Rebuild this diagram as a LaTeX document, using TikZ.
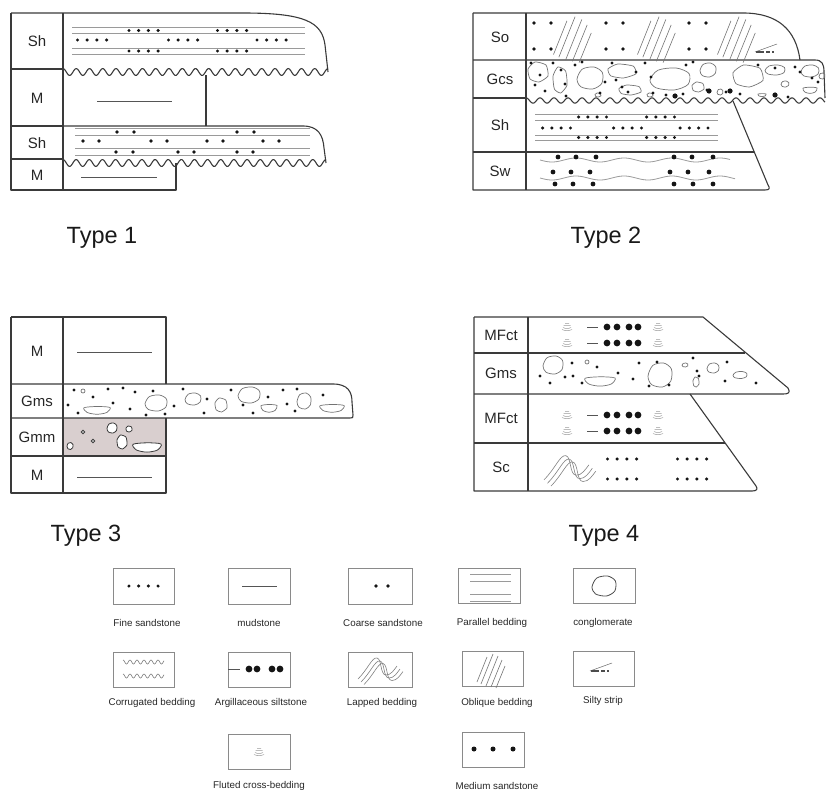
\documentclass[tikz,border=0pt]{standalone}
\usepackage{fontspec}
\setmainfont{Liberation Sans}
\definecolor{outc}{HTML}{3A3A3A}
\definecolor{lgray}{HTML}{9A9A9A}
\definecolor{dotc}{HTML}{151515}
\definecolor{mudc}{HTML}{555555}
\definecolor{gmmfill}{HTML}{D9CFCF}
\definecolor{boxc}{HTML}{8A8A8A}
\tikzset{
  outl/.style={draw=outc, line width=1.1pt, line join=round},
  thinl/.style={draw=lgray, line width=0.8pt},
  mudl/.style={draw=mudc, line width=1pt},
  clastst/.style={draw=black!55, line width=0.7pt},
  lab/.style={font=\fontsize{15}{17}\selectfont, text=black!85, inner sep=0},
  ttl/.style={font=\fontsize{23.5}{26}\selectfont, text=black!90, inner sep=0, anchor=base},
  leg/.style={font=\fontsize{9.8}{11}\selectfont, text=black!85, inner sep=0},
  lbox/.style={draw=boxc, line width=0.9pt},
  fine4/.pic={\foreach \i in {-1.5,-0.5,0.5,1.5} \fill[dotc] (\i*9.7,0) circle[radius=1.7pt];},
  fine4b/.pic={\foreach \i in {-1.5,-0.5,0.5,1.5} \fill[dotc] (\i*9.3,0) circle[radius=1.7pt];},
  clastR/.pic={\draw[clastst] plot[smooth cycle] coordinates {(-1,0.1) (-0.6,-0.8) (0.3,-1) (0.95,-0.5) (0.9,0.5) (0.2,1) (-0.7,0.8)};},
  clastB/.pic={\draw[clastst] plot[smooth cycle] coordinates {(-1,-0.45) (0,-0.7) (1,-0.5) (0.75,0.5) (0,0.85) (-0.75,0.5)};},
  clastA/.pic={\draw[clastst] plot[smooth cycle, tension=0.35] coordinates {(-1,-0.3) (-0.3,-1) (0.8,-0.7) (1,0.4) (0.1,1) (-0.8,0.7)};},
  fluted/.pic={\draw[black!40, line width=0.5pt] (-2,-3.5)--(2,-3.5) (-3.5,-1.5)--(3.5,-1.5)
      (-4,0.5) .. controls (-2,1.8) and (2,1.8) .. (4,0.5)
      (-5,2.5) .. controls (-2,4) and (2,4) .. (5,2.5);},
  lapped/.pic={\foreach \d/\e in {0/0,3/3,6/5.5} {
      \draw[black!50, line width=0.6pt] (-20+\d,12+\e) .. controls (-10+\d,2+\e) and (-6+\d,-10+\e) .. (-1+\d,-9+\e)
         .. controls (4+\d,-8+\e) and (2+\d,8+\e) .. (8+\d,8+\e) .. controls (13+\d,8+\e) and (16+\d,3+\e) .. (19+\d,-1+\e);}},
  oblique/.pic={\draw[black!55, line width=0.6pt] (-13,13)--(-3,-12) (-9,15)--(3,-15) (-4,17)--(8,-13) (1,18)--(12,-9) (6,19)--(15,-3);},
  silty/.pic={\draw[black!60, line width=0.5pt] (-11,4)--(11,-4);
      \draw[black!70, line width=1.1pt] (-10,4)--(-2,4) (0,4)--(4,4) (6,4)--(8,4);},
}
\begin{document}
\begin{tikzpicture}[x=1pt,y=-1pt]
\useasboundingbox (0,0) rectangle (826,792);

% ================= TYPE 1 =================
\draw[outl] (11,13) -- (243,13) .. controls (305,13) and (322,22) .. (325,45) -- (328,72);
\draw[outl] (11,13) -- (11,190) -- (176,190) -- (176,163);
\draw[outl] (63,13) -- (63,190);
\draw[outl] (11,69) -- (63,69) (11,126) -- (63,126) (11,159) -- (63,159);
\draw[outl] plot[domain=63:328, samples=200, variable=\t] (\t, {72-3.5*cos((\t-63)*27.17)});
\draw[outl] (206,75) -- (206,126);
\draw[outl] (63,126) -- (303,126) .. controls (318,126) and (323,135) .. (324,148) -- (326,163);
\draw[outl] plot[domain=63:326, samples=200, variable=\t] (\t, {163-3.5*cos((\t-63)*27.38)});
% top Sh content
\draw[thinl] (72,27)--(305,27) (72,33)--(305,33) (72,48)--(305,48) (72,54)--(305,54);
\foreach \x in {143.5,232} {\pic at (\x,30.5) {fine4}; \pic at (\x,51) {fine4};}
\foreach \x in {92,183,271.5} {\pic at (\x,40) {fine4};}
% M content
\draw[mudl] (97,101)--(172,101);
% Sh2 content
\draw[thinl] (75,128.5)--(310,128.5) (75,135)--(310,135) (75,148.5)--(310,148.5) (75,155)--(310,155);
\foreach \x/\y in {117/132,134/132,237/132,254/132,
  83/141,99/141,151/141,167/141,207/141,223/141,263/141,279/141,
  116/152,133/152,178/152,194/152,237/152,253/152}
  \fill[dotc] (\x,\y) circle[radius=1.9pt];
\draw[mudl] (81,177)--(157,177);
\node[lab] (t1a) at (37,41) {Sh};
\node[lab] (t1b) at (37,98) {M};
\node[lab] (t1c) at (37,143) {Sh};
\node[lab] (t1d) at (37,175) {M};
\node[ttl] (type1) at (102,243) {Type 1};

% ================= TYPE 2 =================
\draw[outl] (473,13) -- (743,13) .. controls (778,13) and (796,30) .. (800,60);
\draw[outl] (473,13) -- (473,190) -- (765,190) .. controls (770,190) and (770,188) .. (768,185) -- (733,101);
\draw[outl] (526,13) -- (526,190);
\draw[outl] (473,60) -- (815,60) .. controls (822,60) and (824,64) .. (824,72) -- (825,98);
\draw[outl] (473,98) -- (526,98);
\draw[outl] plot[domain=526:825, samples=220, variable=\t] (\t, {100.5-2.7*cos((\t-526)*25.714)});
\draw[outl] (473,152) -- (754,152);
% So
\foreach \x in {534,551,606,623,689,706} {\fill[dotc] (\x,23) circle[radius=1.9pt]; \fill[dotc] (\x,49) circle[radius=1.9pt];}
\foreach \x in {571,655,735} \pic[scale=1.35] at (\x,37) {oblique};
\pic at (766,48) {silty};
% Gcs
\foreach \x/\y/\a/\b in {590/78/13/11, 670/79/20/11, 708/70/8/7, 775/70/10/5, 810/71/9/6, 785/84/4/3, 822/76/3/3, 720/92/3/3}
  \pic[xscale=\a, yscale=\b] at (\x,\y) {clastR};
\foreach \x/\y/\a/\b in {538/72/10/10, 560/80/7/13, 622/71/14/7, 630/90/11/5, 698/87/6/5, 748/76/15/11, 598/95/3/2, 650/95/3/2}
  \pic[xscale=\a, yscale=\b] at (\x,\y) {clastA};
\foreach \x/\y/\a/\b in {810/90/7/4, 762/95/4/2}
  \pic[xscale=\a, yscale=\b] at (\x,\y) {clastB};
\foreach \x/\y in {531/63,535/85,545/91,553/63,561/70,575/65,582/62,600/93,612/63,616/80,622/87,628/92,636/72,
  645/63,651/77,653/93,666/95,686/65,693/62,707/90,726/92,758/65,775/68,788/97,795/67,800/72,812/78,818/82,
  540/75,565/84,566/96,605/82,683/94,740/94}
  \fill[dotc] (\x,\y) circle[radius=1.6pt];
\foreach \x/\y in {709/91,730/91,775/95,675/96}
  \fill[dotc] (\x,\y) circle[radius=2.6pt];
% Sh
\draw[thinl] (535,114)--(718,114) (535,120)--(718,120) (535,135)--(718,135) (535,140)--(718,140);
\foreach \x in {592.5,660.5} {\pic at (\x,117) {fine4b}; \pic at (\x,137.5) {fine4b};}
\foreach \x in {556.5,627.5,694} {\pic at (\x,128) {fine4b};}
% Sw
\draw[thinl] plot[domain=540:730, samples=100, variable=\t] (\t, {160+2*sin((\t-540)*7.5)});
\draw[thinl] plot[domain=540:735, samples=100, variable=\t] (\t, {178+2*sin((\t-540)*7.5)});
\foreach \x/\y in {558/157,576/157,596/157,674/157,692/157,713/157,
  553/172,571/172,590/172,670/172,688/172,709/172,
  555/184,573/184,593/184,674/184,693/184,713/184}
  \fill[dotc] (\x,\y) circle[radius=2.4pt];
\node[lab] (t2a) at (500,37) {So};
\node[lab] (t2b) at (500,79) {Gcs};
\node[lab] (t2c) at (500,125) {Sh};
\node[lab] (t2d) at (500,171) {Sw};
\node[ttl] (type2) at (606,243) {Type 2};

% ================= TYPE 3 =================
\fill[gmmfill] (63,418) rectangle (166,456);
\draw[outl] (11,317) -- (166,317) -- (166,384);
\draw[outl] (11,317) -- (11,493) -- (166,493) -- (166,418);
\draw[outl] (63,317) -- (63,493);
\draw[outl] (11,384) -- (333,384) .. controls (348,384) and (352,392) .. (352,402) -- (353,415) .. controls (353,418) .. (350,418) -- (11,418);
\draw[outl] (11,456) -- (166,456);
\draw[mudl] (77,352)--(152,352);
\draw[mudl] (77,477)--(152,477);
% Gms clasts
\foreach \x/\y/\a/\b in {156/403/11/8, 193/399/8/6, 249/395/11/8, 304/401/7/8}
  \pic[xscale=\a, yscale=\b] at (\x,\y) {clastR};
\foreach \x/\y/\a/\b in {97/410/13/5, 269/408/8/5, 332/408/12/5}
  \pic[xscale=\a, yscale=\b] at (\x,\y) {clastB};
\pic[xscale=6, yscale=7] at (221,405) {clastA};
\draw[clastst] (83,391) circle[radius=2pt];
\foreach \x/\y in {74/390,93/397,108/389,123/388,135/392,153/391,68/405,78/413,113/403,130/409,146/415,165/414,
  183/389,174/406,207/399,204/413,231/390,243/405,253/413,268/397,283/390,297/389,287/404,295/411,323/395}
  \fill[dotc] (\x,\y) circle[radius=1.7pt];
% Gmm clasts
\begin{scope}[clastst/.style={draw=outc, fill=white, line width=0.8pt}]
  \pic[xscale=14, yscale=6] at (147,447) {clastB};
  \pic[xscale=5, yscale=5] at (112,428) {clastR};
  \pic[xscale=5, yscale=7] at (122,442) {clastA};
  \pic[xscale=3, yscale=3] at (129,429) {clastA};
  \pic[xscale=3, yscale=3.5] at (70,446) {clastR};
  \draw[clastst] (83,432) circle[radius=1.8pt] (93,441) circle[radius=1.8pt];
\end{scope}
\node[lab] (t3a) at (37,351) {M};
\node[lab] (t3b) at (37,401) {Gms};
\node[lab] (t3c) at (37,437) {Gmm};
\node[lab] (t3d) at (37,475) {M};
\node[ttl] (type3) at (86,541) {Type 3};

% ================= TYPE 4 =================
\draw[outl] (474,317) -- (703,317) -- (788,388) .. controls (791,393) and (788,394) .. (783,394) -- (474,394);
\draw[outl] (474,317) -- (474,491) -- (752,491) .. controls (757,491) and (758,489) .. (756,486) -- (690,394);
\draw[outl] (528,317) -- (528,491);
\draw[outl] (474,353) -- (745,353) (474,443) -- (725,443);
% MFct rows
\foreach \y in {327,343,415,431} {
  \pic at (567,\y) {fluted};
  \pic at (658,\y) {fluted};
  \draw[mudl] (587,\y) -- (598,\y);
  \foreach \x in {607,617,629,638} \fill[dotc] (\x,\y) circle[radius=3.4pt];
}
% Gms
\foreach \x/\y/\a/\b in {553/365/10/9, 660/375/12/12, 713/368/6/5, 740/375/7/3.5}
  \pic[xscale=\a, yscale=\b] at (\x,\y) {clastR};
\pic[xscale=15, yscale=6] at (600,381) {clastB};
\pic[xscale=3, yscale=5] at (696,382) {clastA};
\pic[xscale=3, yscale=2] at (685,365) {clastR};
\draw[clastst] (587,362) circle[radius=2pt];
\foreach \x/\y in {540/376,550/383,572/363,565/377,573/376,582/383,597/367,618/373,633/379,639/363,657/362,
  649/386,669/385,693/358,697/371,699/376,727/362,725/381,756/383}
  \fill[dotc] (\x,\y) circle[radius=1.7pt];
% Sc
\pic[scale=1.15] at (567,466) {lapped};
\foreach \x in {622,692} {\pic at (\x,459) {fine4}; \pic at (\x,479) {fine4};}
\node[lab] (t4a) at (501,335) {MFct};
\node[lab] (t4b) at (501,373) {Gms};
\node[lab] (t4c) at (501,418) {MFct};
\node[lab] (t4d) at (501,467) {Sc};
\node[ttl] (type4) at (604,541) {Type 4};

% ================= LEGEND =================
\draw[lbox] (113,568) rectangle (174,604);
\draw[lbox] (228,568) rectangle (290,604);
\draw[lbox] (348,568) rectangle (412,604);
\draw[lbox] (458,568) rectangle (520,603);
\draw[lbox] (573,568) rectangle (635,603);
\pic at (143.5,586) {fine4};
\draw[mudl] (242,586)--(277,586);
\fill[dotc] (376,586) circle[radius=1.9pt] (388,586) circle[radius=1.9pt];
\draw[thinl] (470,574)--(511,574) (470,581)--(511,581) (470,594)--(511,594) (470,601)--(511,601);
\begin{scope}[clastst/.style={draw=black!70, line width=0.8pt}]
  \pic[xscale=12, yscale=10] at (604,586) {clastR};
\end{scope}
\node[leg] (l1) at (147,623) {Fine sandstone};
\node[leg] (l2) at (259,623) {mudstone};
\node[leg] (l3) at (383,623) {Coarse sandstone};
\node[leg] (l4) at (492,623) {Parallel bedding};
\node[leg] (l5) at (603,623) {conglomerate};

\draw[lbox] (113,652) rectangle (174,687);
\draw[lbox] (228,652) rectangle (290,687);
\draw[lbox] (348,652) rectangle (412,687);
\draw[lbox] (462,651) rectangle (523,686);
\draw[lbox] (573,651) rectangle (634,686);
\draw[black!55, line width=0.6pt] plot[domain=123:164, samples=80, variable=\t] (\t, {662-2*cos((\t-123)*51.43)});
\draw[black!55, line width=0.6pt] plot[domain=123:164, samples=80, variable=\t] (\t, {676-2*cos((\t-123)*51.43)});
\draw[mudl] (228,669)--(240,669);
\foreach \x in {249,257,272,280} \fill[dotc] (\x,669) circle[radius=3.4pt];
\pic at (378,667) {lapped};
\pic at (490,669) {oblique};
\pic at (601,667) {silty};
\node[leg] (l6) at (152,703) {Corrugated bedding};
\node[leg] (l7) at (261,703) {Argillaceous siltstone};
\node[leg] (l8) at (382,703) {Lapped bedding};
\node[leg] (l9) at (497,703) {Oblique bedding};
\node[leg] (l10) at (603,701) {Silty strip};

\draw[lbox] (228,734) rectangle (290,769);
\draw[lbox] (462,732) rectangle (524,767);
\pic at (259,752) {fluted};
\foreach \x in {474,493,513} \fill[dotc] (\x,749) circle[radius=2.5pt];
\node[leg] (l11) at (259,786) {Fluted cross-bedding};
\node[leg] (l12) at (497,786) {Medium sandstone};
\end{tikzpicture}
\end{document}
